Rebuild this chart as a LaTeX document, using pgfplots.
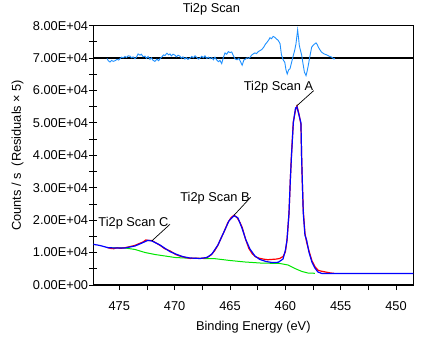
\documentclass[border=0pt]{standalone}
\usepackage{fontspec}
\setmainfont{Liberation Sans}
\usepackage{pgfplots}
\pgfplotsset{compat=1.18}
\definecolor{resblue}{RGB}{30,144,255}
\definecolor{bggreen}{RGB}{0,230,0}
\begin{document}
\begin{tikzpicture}[font=\fontsize{12.8bp}{15bp}\selectfont]
\useasboundingbox (0,0) rectangle (429bp,358bp);
\begin{axis}[
  at={(93.3bp,73bp)}, anchor=south west,
  scale only axis, width=320bp, height=259.3bp,
  x dir=reverse,
  xmin=448.44, xmax=477.35, ymin=0, ymax=80000,
  xtick={450,455,460,465,470,475},
  xticklabels={450,455,460,465,470,475},
  ytick={0,10000,20000,30000,40000,50000,60000,70000,80000},
  yticklabels={0.00E+00,1.00E+04,2.00E+04,3.00E+04,4.00E+04,5.00E+04,6.00E+04,7.00E+04,8.00E+04},
  minor x tick num=1, minor y tick num=1,
  xtick pos=bottom, ytick pos=left,
  xtick align=outside, ytick align=center,
  major tick length=8bp, minor tick length=8bp,
  xtick style={/pgfplots/major tick length=5bp,/pgfplots/minor tick length=5bp},
  tick style={black, line width=0.9bp},
  axis line style={black, line width=1.4bp},
  xticklabel style={anchor=base, inner sep=0pt, yshift=-17bp},
  yticklabel style={anchor=east, inner sep=0pt, xshift=-1bp},
  scaled y ticks=false,
  title={Ti2p Scan},
  title style={at={(axis description cs:0.369,1)}, anchor=base, yshift=7.4bp, inner sep=0pt},
  xlabel={Binding Energy (eV)},
  xlabel style={at={(axis description cs:0.5,0)}, anchor=base, yshift=-45bp, inner sep=0pt},
  ylabel={Counts / s\ \ (Residuals × 5)},
  ylabel style={at={(axis description cs:-0.226,0.5)}, anchor=base, inner sep=0pt},
  clip=true,
]
% residual zero line
\addplot[black, line width=1.3bp] coordinates {(448.44,70000) (477.35,70000)};
% residuals x5
\addplot[resblue, line width=0.9bp] coordinates {
(476.11,69900) (476.0,69200) (475.84,68800) (475.7,69300) (475.55,69000) (475.39,69200) (475.2,69600) (475.05,69400) (474.94,69800) (474.8,70300) (474.65,70100) (474.49,70500) (474.35,70200) (474.2,70700) (474.03,70600) (473.9,70100) (473.75,70400) (473.58,69800) (473.45,70300) (473.3,71300) (473.13,70900) (473.0,71200) (472.85,70400) (472.68,70600) (472.55,69900) (472.4,70500) (472.23,69600) (472.1,70100) (471.95,69300) (471.78,69000) (471.6,69700) (471.45,69200) (471.32,69800) (471.15,70400) (471.0,71000) (470.87,70800) (470.7,71500) (470.55,71000) (470.42,71300) (470.3,70700) (470.15,71200) (469.97,70900) (469.85,70400) (469.7,70900) (469.52,70600) (469.4,70000) (469.25,70400) (469.07,69700) (468.95,70200) (468.8,69600) (468.61,70000) (468.45,70500) (468.3,70100) (468.16,70700) (468.0,70200) (467.85,69700) (467.71,70000) (467.55,70600) (467.4,70100) (467.26,70700) (467.1,69900) (466.95,70300) (466.81,69800) (466.65,70200) (466.5,69500) (466.36,70300) (466.2,69400) (466.05,68900) (465.9,69300) (465.75,68300) (465.6,70200) (465.45,71600) (465.3,71200) (465.15,72000) (465.0,71700) (464.85,71900) (464.7,70800) (464.55,69800) (464.37,69500) (464.2,69900) (464.05,68900) (463.9,67800) (463.75,69400) (463.6,69700) (463.45,70100) (463.3,69900) (463.2,70200) (463.05,70900) (462.9,71300) (462.75,71600) (462.6,71400) (462.45,72000) (462.3,72300) (462.11,72700) (461.95,73400) (461.8,74300) (461.65,74900) (461.5,75600) (461.39,76300) (461.25,76000) (461.1,76700) (460.94,76400) (460.8,75900) (460.65,75500) (460.48,74500) (460.35,71000) (460.2,69500) (460.05,68700) (459.95,66500) (459.83,65100) (459.7,66400) (459.58,66700) (459.45,68500) (459.28,70800) (459.15,72500) (459.04,74400) (458.89,78700) (458.8,76000) (458.74,73900) (458.62,72200) (458.52,70800) (458.4,68200) (458.28,65700) (458.13,64600) (458.03,66000) (457.93,67700) (457.78,70600) (457.62,73400) (457.45,74100) (457.23,74700) (457.12,74200) (457.02,73400) (456.88,72600) (456.72,71800) (456.5,71300) (456.27,71000) (456.05,70600) (455.81,70300) (455.6,69700) (455.53,70000)
};
% background
\addplot[bggreen, line width=1bp] coordinates {
(475.66,11420) (474.49,11420) (473.58,10960) (472.68,10030) (471.78,9410) (470.87,8950) (469.97,8490) (468.62,8240) (466.36,8120) (465.0,7560) (463.65,7100) (462.3,6790) (460.48,6630) (459.76,6170) (459.13,5090) (458.5,4170) (457.96,3700) (457.33,3610)
};
% raw data
\addplot[red, line width=1.2bp] coordinates {
(476.1,11600) (475.8,11300) (475.5,11200) (475.2,11500) (474.9,11300) (474.5,11500) (474.1,11800) (473.6,12200) (473.2,12800) (472.9,13200) (472.6,13900) (472.35,13700) (472.05,13700) (471.7,13000) (471.3,12200) (470.9,11200) (470.4,10500) (469.9,9400) (469.5,8900) (469.0,8500) (468.6,8200) (468.1,8300) (467.7,8200) (467.3,8300) (467.0,8600) (466.7,9300) (466.4,10500) (466.1,12200) (465.8,14500) (465.5,16700) (465.2,19200) (464.9,20800) (464.65,21500) (464.4,21000) (464.1,19300) (463.9,17800) (463.6,14200) (463.3,11300) (463.0,9700) (462.7,8700) (462.4,8300) (462.0,8000) (461.6,7800) (461.2,7900) (460.8,8000) (460.5,8200) (460.2,8800) (460.0,10200) (459.85,13800) (459.67,22000) (459.55,32400) (459.45,40000) (459.28,50300) (459.08,54000) (458.95,55200) (458.77,52800) (458.59,49500) (458.53,39600) (458.47,32000) (458.38,23000) (458.23,16000) (458.08,13200) (457.87,10600) (457.6,7500) (457.33,5700) (457.06,4600) (456.8,4300) (456.5,4100) (456.2,3900) (455.9,3700) (455.6,3600)
};
% envelope
\addplot[blue, line width=1.2bp] coordinates {
(477.35,12560) (476.75,12190) (476.02,11510) (475.39,11420) (474.49,11420) (473.58,12040) (472.95,12960) (472.41,13790) (472.05,13580) (471.33,12340) (470.42,10280) (469.79,9410) (469.25,8730) (468.62,8330) (467.71,8180) (467.08,8490) (466.63,9570) (466.09,12340) (465.55,16360) (465.1,19750) (464.64,21390) (464.28,20680) (463.92,17590) (463.56,13890) (463.2,11110) (462.75,8950) (462.3,7870) (461.75,7250) (461.21,6940) (460.64,7000) (460.21,8020) (459.99,10800) (459.85,13890) (459.67,22220) (459.55,32400) (459.45,39500) (459.28,50000) (459.08,54620) (458.95,54930) (458.77,52460) (458.59,50000) (458.53,39500) (458.47,32400) (458.38,22220) (458.23,15430) (458.08,13890) (457.87,10180) (457.6,7100) (457.33,5250) (457.06,4010) (456.7,3550) (448.44,3550)
};
% annotations
\node[anchor=base west, inner sep=0pt] at (axis cs:463.77,59960) {Ti2p Scan A};
\draw[black, line width=0.7bp] (axis cs:457.44,59960) -- (axis cs:458.98,55240);
\node[anchor=base west, inner sep=0pt] at (axis cs:469.5,25700) {Ti2p Scan B};
\draw[black, line width=0.7bp] (axis cs:463.13,27060) -- (axis cs:464.64,21510);
\node[anchor=base west, inner sep=0pt] at (axis cs:476.9,18000) {Ti2p Scan C};
\draw[black, line width=0.7bp] (axis cs:470.42,18730) -- (axis cs:472.07,13580);
\end{axis}
\end{tikzpicture}
\end{document}
